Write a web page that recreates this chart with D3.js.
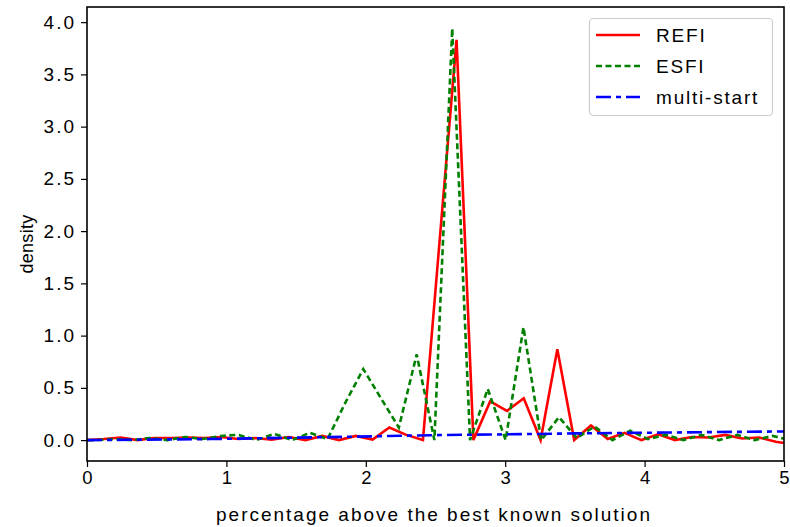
<!DOCTYPE html>
<html>
<head>
<meta charset="utf-8">
<script src="https://cdn.jsdelivr.net/npm/d3@7"></script>
<style>
  body { margin: 0; background: #fff; }
  text { font-family: "Liberation Sans", Arial, sans-serif; fill: #000; }
</style>
</head>
<body>
<svg id="chart" width="790" height="527"></svg>
<script>
// Density of the percentage above the best known solution, per method
const refiX = [0, 0.121, 0.241, 0.362, 0.482, 0.603, 0.723, 0.844, 0.964, 1.085, 1.205, 1.326, 1.446, 1.567, 1.687, 1.808, 1.928, 2.049, 2.169, 2.290, 2.410, 2.531, 2.651, 2.772, 2.892, 3.013, 3.133, 3.254, 3.374, 3.495, 3.615, 3.736, 3.856, 3.977, 4.097, 4.218, 4.338, 4.459, 4.579, 4.700, 4.820, 4.941, 5.061];
const refiY = [0.00, 0.01, 0.025, 0.00, 0.02, 0.02, 0.025, 0.02, 0.03, 0.01, 0.02, 0.005, 0.03, 0.00, 0.04, 0.00, 0.04, 0.005, 0.12, 0.05, 0.00, 1.93, 3.83, 0.00, 0.37, 0.28, 0.40, 0.00, 0.87, 0.00, 0.14, 0.01, 0.07, 0.00, 0.055, 0.00, 0.03, 0.025, 0.05, 0.015, 0.025, -0.015, -0.04];

const esfiX = [-0.062, 0.066, 0.194, 0.321, 0.449, 0.577, 0.705, 0.832, 0.960, 1.088, 1.215, 1.343, 1.471, 1.598, 1.726, 1.854, 1.982, 2.109, 2.237, 2.365, 2.492, 2.620, 2.748, 2.875, 3.003, 3.131, 3.258, 3.386, 3.514, 3.641, 3.769, 3.897, 4.024, 4.152, 4.280, 4.407, 4.535, 4.663, 4.790, 4.918, 5.046];
const esfiY = [0.00, 0.00, 0.01, 0.00, 0.02, 0.00, 0.03, 0.01, 0.04, 0.05, 0.00, 0.06, 0.00, 0.07, 0.01, 0.36, 0.68, 0.40, 0.12, 0.82, 0.00, 3.94, 0.00, 0.49, 0.00, 1.08, 0.00, 0.22, 0.02, 0.13, 0.00, 0.09, 0.01, 0.05, 0.00, 0.05, 0.00, 0.05, 0.00, 0.04, 0.00];

const multiX = [0, 0.88, 1.89, 2.51, 3.0, 3.5, 5.0];
const multiY = [0.00, 0.01, 0.032, 0.048, 0.055, 0.064, 0.083];

const xTicks = [0, 1, 2, 3, 4, 5];
const yTicks = [0.0, 0.5, 1.0, 1.5, 2.0, 2.5, 3.0, 3.5, 4.0];
const seriesNames = ["REFI", "ESFI", "multi-start"];

const svg = d3.select("#chart");
const plot = { left: 87, right: 784, top: 7, bottom: 461 };

const x = d3.scaleLinear().domain([0, 5]).range([plot.left, plot.right]);
const y = d3.scaleLinear().domain([-0.2, 4.145]).range([plot.bottom, plot.top]);

svg.append("defs").append("clipPath").attr("id", "plot-clip")
  .append("rect")
  .attr("x", plot.left).attr("y", plot.top)
  .attr("width", plot.right - plot.left).attr("height", plot.bottom - plot.top);

// Axes
const fmtY = d3.format(".1f");
const xAxis = svg.append("g")
  .attr("transform", `translate(0,${plot.bottom})`)
  .call(d3.axisBottom(x).tickValues(xTicks).tickFormat(d3.format("d")).tickSize(6).tickPadding(4));
const yAxis = svg.append("g")
  .attr("transform", `translate(${plot.left},0)`)
  .call(d3.axisLeft(y).tickValues(yTicks).tickFormat(fmtY).tickSize(6).tickPadding(5));

[xAxis, yAxis].forEach(g => {
  g.select(".domain").remove();
  g.selectAll(".tick line").attr("stroke", "#000").attr("stroke-width", 1.2);
  g.selectAll(".tick text").style("font-size", "19px").style("letter-spacing", "2px");
});
// single digits: no trailing tracking so each label stays centred on its tick
xAxis.selectAll(".tick text").style("letter-spacing", "0px").style("font-size", "18.5px");

// Series lines
const series = [
  { name: seriesNames[0], xs: refiX, ys: refiY, color: "#ff0000", dash: null },
  { name: seriesNames[1], xs: esfiX, ys: esfiY, color: "#008000", dash: "6,3.5" },
  { name: seriesNames[2], xs: multiX, ys: multiY, color: "#0000ff", dash: "15,5,5,5" }
];

const line = d3.line().x(d => x(d[0])).y(d => y(d[1]));
const lines = svg.append("g").attr("clip-path", "url(#plot-clip)");
series.forEach(s => {
  lines.append("path")
    .datum(s.xs.map((v, i) => [v, s.ys[i]]))
    .attr("d", line)
    .attr("fill", "none")
    .attr("stroke", s.color)
    .attr("stroke-width", 2.6)
    .attr("stroke-linejoin", "miter")
    .attr("stroke-dasharray", s.dash);
});

// Frame
svg.append("rect")
  .attr("x", plot.left).attr("y", plot.top)
  .attr("width", plot.right - plot.left).attr("height", plot.bottom - plot.top)
  .attr("fill", "none").attr("stroke", "#000").attr("stroke-width", 1.6);

// Axis titles
svg.append("text")
  .attr("x", 434).attr("y", 521)
  .attr("text-anchor", "middle")
  .style("font-size", "19px").style("letter-spacing", "2px")
  .text("percentage above the best known solution");
svg.append("text")
  .attr("transform", `translate(33,${(plot.top + plot.bottom) / 2 + 10}) rotate(-90)`)
  .attr("text-anchor", "middle")
  .style("font-size", "18px").style("letter-spacing", "0.3px")
  .text("density");

// Legend
const lg = svg.append("g");
lg.append("rect")
  .attr("x", 589.5).attr("y", 18.5).attr("width", 183).attr("height", 97)
  .attr("rx", 4).attr("fill", "#fff").attr("fill-opacity", 0.8)
  .attr("stroke", "#cccccc").attr("stroke-width", 1.2);
series.forEach((s, i) => {
  const ly = 35 + i * 31;
  lg.append("line")
    .attr("x1", 596).attr("x2", 640).attr("y1", ly).attr("y2", ly)
    .attr("stroke", s.color).attr("stroke-width", 2.6)
    .attr("stroke-dasharray", s.dash);
  lg.append("text")
    .attr("x", 656).attr("y", ly).attr("dy", "0.36em")
    .style("font-size", "19px").style("letter-spacing", "1.8px")
    .text(s.name);
});
</script>
</body>
</html>
